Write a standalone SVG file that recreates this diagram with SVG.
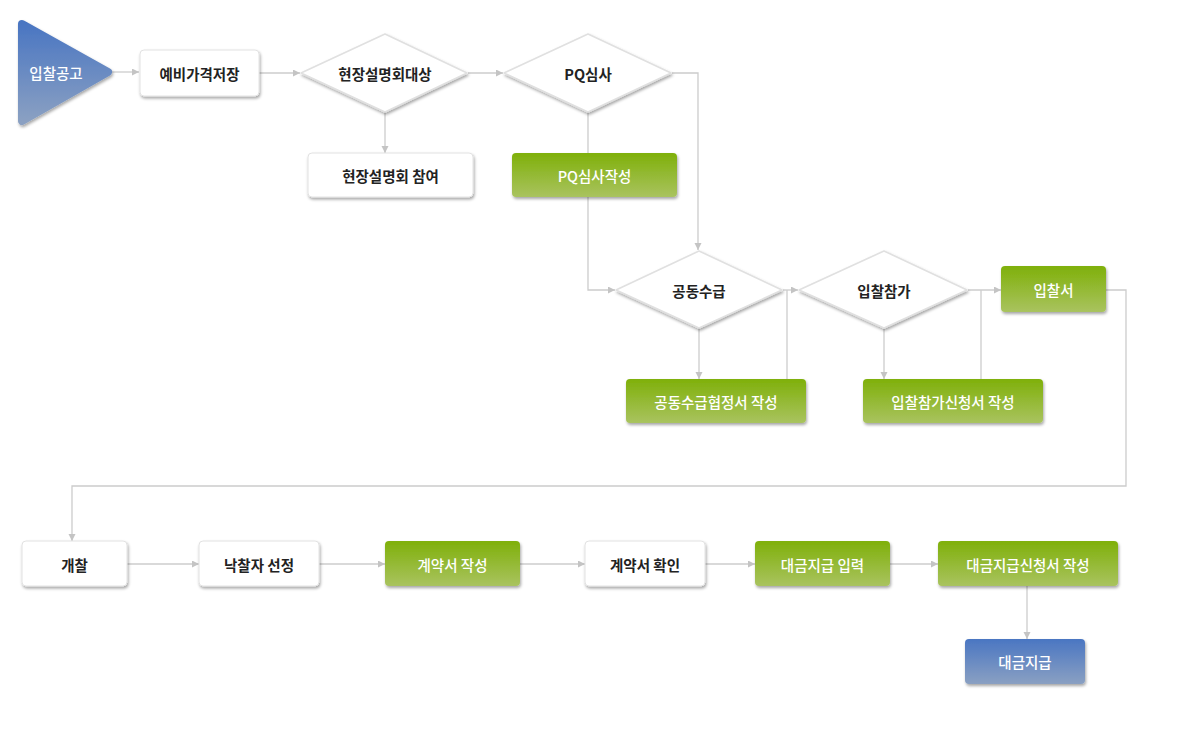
<svg xmlns="http://www.w3.org/2000/svg" width="1200" height="730" viewBox="0 0 1200 730">
<defs>
<linearGradient id="gGreen" x1="0" y1="0" x2="0" y2="1"><stop offset="0" stop-color="#7fb00a"/><stop offset="1" stop-color="#a9c35f"/></linearGradient>
<linearGradient id="gBlue" x1="0" y1="0" x2="0" y2="1"><stop offset="0" stop-color="#4a76c2"/><stop offset="1" stop-color="#8aa0c2"/></linearGradient>
<filter id="sh" x="-20%" y="-20%" width="140%" height="160%"><feDropShadow dx="1" dy="2" stdDeviation="1.5" flood-color="#000" flood-opacity="0.35"/></filter>
<marker id="arr" markerUnits="userSpaceOnUse" markerWidth="8" markerHeight="8" refX="7" refY="3.5" orient="auto"><path d="M0,0 L7,3.5 L0,7 z" fill="#c4c4c4"/></marker>
<style>
.c{fill:none;stroke:#cccccc;stroke-width:1.3}
.w{fill:#fff;stroke:#e2e2e2;stroke-width:1;filter:url(#sh)}
.g{fill:url(#gGreen);filter:url(#sh)}
.b{fill:url(#gBlue);filter:url(#sh)}
.d{fill:#fff;stroke:#e0e0e0;stroke-width:1.5;stroke-linejoin:round;filter:url(#sh)}
text{font-family:"Noto Sans CJK KR","Noto Sans",sans-serif;font-size:14.5px;text-anchor:middle;dominant-baseline:central}
.tk{fill:#222;font-weight:bold}
.tw{fill:#fff;font-weight:500}
</style>
</defs>
<rect width="1200" height="730" fill="#fff"/>
<g id="connectors">
<path class="c" d="M112,72 H139" marker-end="url(#arr)"/>
<path class="c" d="M259,73 H300" marker-end="url(#arr)"/>
<path class="c" d="M468,73 H503" marker-end="url(#arr)"/>
<path class="c" d="M385,112 V153" marker-end="url(#arr)"/>
<path class="c" d="M672,73 H698 V250" marker-end="url(#arr)"/>
<path class="c" d="M588,112 V290 H615" marker-end="url(#arr)"/>
<path class="c" d="M699,328 V379" marker-end="url(#arr)"/>
<path class="c" d="M783,290 H798" marker-end="url(#arr)"/>
<path class="c" d="M787,379 V290"/>
<path class="c" d="M884,329 V379" marker-end="url(#arr)"/>
<path class="c" d="M968,290 H1001" marker-end="url(#arr)"/>
<path class="c" d="M981,379 V290"/>
<path class="c" d="M1106,290 H1126 V486 H72 V541" marker-end="url(#arr)"/>
<path class="c" d="M127,564 H199" marker-end="url(#arr)"/>
<path class="c" d="M319,564 H385" marker-end="url(#arr)"/>
<path class="c" d="M520,564 H585" marker-end="url(#arr)"/>
<path class="c" d="M705,564 H755" marker-end="url(#arr)"/>
<path class="c" d="M890,564 H938" marker-end="url(#arr)"/>
<path class="c" d="M1027,586 V639" marker-end="url(#arr)"/>
</g>
<g id="n-start"><polygon points="22,24 108,72 22,121" fill="url(#gBlue)" stroke="url(#gBlue)" stroke-width="8" stroke-linejoin="round" filter="url(#sh)"/><text class="tw" x="56" y="72">입찰공고</text></g>
<g id="n-price"><rect class="w" x="140" y="50" width="119" height="46" rx="4"/><text class="tk" x="199.5" y="73">예비가격저장</text></g>
<g id="n-site"><polygon class="d" points="301,73 385,34 467,73 385,112"/><text class="tk" x="385" y="73">현장설명회대상</text></g>
<g id="n-pq"><polygon class="d" points="504,73 588,34 671,73 588,112"/><text class="tk" x="588" y="73">PQ심사</text></g>
<g id="n-sitejoin"><rect class="w" x="308" y="153" width="165" height="44" rx="4"/><text class="tk" x="390.5" y="175">현장설명회 참여</text></g>
<g id="n-pqwrite"><rect class="g" x="512" y="153" width="165" height="44" rx="4"/><text class="tw" x="594.5" y="175">PQ심사작성</text></g>
<g id="n-joint"><polygon class="d" points="616,290 699,251 782,290 699,328"/><text class="tk" x="699" y="290">공동수급</text></g>
<g id="n-bidjoin"><polygon class="d" points="799,290 884,251 967,290 884,328"/><text class="tk" x="884" y="290">입찰참가</text></g>
<g id="n-bid"><rect class="g" x="1001" y="266" width="105" height="46" rx="4"/><text class="tw" x="1053.5" y="289">입찰서</text></g>
<g id="n-jointwrite"><rect class="g" x="626" y="379" width="180" height="44" rx="4"/><text class="tw" x="716" y="401">공동수급협정서 작성</text></g>
<g id="n-bidjoinwrite"><rect class="g" x="863" y="379" width="180" height="44" rx="4"/><text class="tw" x="953" y="401">입찰참가신청서 작성</text></g>
<g id="n-open"><rect class="w" x="22" y="541" width="105" height="45" rx="4"/><text class="tk" x="74.5" y="564">개찰</text></g>
<g id="n-winner"><rect class="w" x="199" y="541" width="120" height="45" rx="4"/><text class="tk" x="259" y="564">낙찰자 선정</text></g>
<g id="n-contract"><rect class="g" x="385" y="541" width="135" height="45" rx="4"/><text class="tw" x="452.5" y="564">계약서 작성</text></g>
<g id="n-confirm"><rect class="w" x="585" y="541" width="120" height="45" rx="4"/><text class="tk" x="645" y="564">계약서 확인</text></g>
<g id="n-payinput"><rect class="g" x="755" y="541" width="135" height="45" rx="4"/><text class="tw" x="822.5" y="564">대금지급 입력</text></g>
<g id="n-payreq"><rect class="g" x="938" y="541" width="180" height="45" rx="4"/><text class="tw" x="1028" y="564">대금지급신청서 작성</text></g>
<g id="n-pay"><rect class="b" x="965" y="639" width="120" height="45" rx="4"/><text class="tw" x="1025" y="661.5">대금지급</text></g>
</svg>
